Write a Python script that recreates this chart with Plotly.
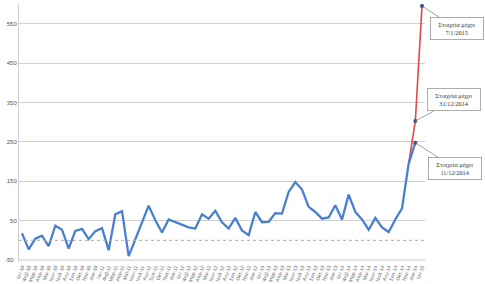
import plotly.graph_objects as go

months = ["Ιαν", "Φεβ", "Μαρ", "Απρ", "Μαϊ", "Ιουν", "Ιουλ", "Αυγ", "Σεπ", "Οκτ", "Νοε", "Δεκ"]
years = ["10", "11", "12", "13", "14", "15"]
categories = [f"{m}-{y}" for y in years for m in months][:61]

blue_values = [18, -23, 4, 12, -15, 37, 27, -21, 24, 29,
               3, 23, 31, -25, 66, 74, -40, 4, 44, 88,
               51, 20, 53, 46, 38, 33, 30, 66, 55, 75,
               46, 30, 57, 25, 13, 72, 46, 47, 69, 68,
               123, 148, 129, 85, 72, 55, 58, 89, 53, 116,
               72, 53, 27, 57, 33, 21, 53, 81, 195, 248]
red_cats = categories[58:61]
red_values = [195, 303, 595]

marker_cats = [categories[59], categories[59], categories[60]]
marker_values = [248, 303, 595]
note_texts = ["Στοιχεία μέχρι<br>11/12/2014", "Στοιχεία μέχρι<br>31/12/2014", "Στοιχεία μέχρι<br>7/1/2015"]

y_ticks = [-50, 50, 150, 250, 350, 450, 550]
y_labels = ["-50", "50", "150", "250", "350", "450", "550"]

fig = go.Figure()
fig.add_trace(go.Scatter(x=red_cats, y=red_values, mode="lines",
                         line=dict(color="#e0474c", width=1.6), hoverinfo="skip"))
fig.add_trace(go.Scatter(x=categories[:60], y=blue_values, mode="lines",
                         line=dict(color="#4a7fcf", width=2.3), hoverinfo="skip"))
fig.add_trace(go.Scatter(x=marker_cats, y=marker_values, mode="markers",
                         marker=dict(color="#2a4f8f", size=4), hoverinfo="skip"))

offsets = [(40, 26), (39, -21), (35, 23)]
for c, v, t, (ax, ay) in zip(marker_cats, marker_values, note_texts, offsets):
    fig.add_annotation(x=c, y=v, text=t, showarrow=True, arrowhead=0,
                       arrowcolor="#888888", arrowwidth=0.8, ax=ax, ay=ay,
                       bordercolor="#999999", borderwidth=0.8, borderpad=3,
                       bgcolor="white", width=46,
                       font=dict(family="Liberation Serif", size=6.3, color="#333333"))

fig.add_shape(type="line", xref="paper", x0=0, x1=1, yref="y", y0=0, y1=0,
              line=dict(color="#aaaaaa", width=1, dash="dot"))
fig.add_shape(type="line", xref="paper", x0=0, x1=1, yref="y", y0=y_ticks[0], y1=y_ticks[0],
              line=dict(color="#c8c8c8", width=1))
fig.add_annotation(xref="paper", x=0, xanchor="right", xshift=-3, yref="y", y=y_ticks[0],
                   yanchor="middle", text=y_labels[0], showarrow=False,
                   font=dict(family="Liberation Sans", size=6, color="#555555"))

fig.update_layout(
    width=485, height=284,
    margin=dict(l=19, r=60, t=4, b=22),
    paper_bgcolor="white", plot_bgcolor="white",
    showlegend=False,
    xaxis=dict(type="category", categoryorder="array", categoryarray=categories,
               range=[-0.45, 60.45], showgrid=False, tickangle=-70,
               tickfont=dict(family="Liberation Sans", size=5, color="#666666"),
               ticks="", showline=False, automargin=False, zeroline=False,
               tickmode="array", tickvals=categories, ticktext=categories),
    yaxis=dict(range=[-55, 600], tickmode="array", tickvals=y_ticks[1:], ticktext=y_labels[1:],
               showgrid=True, gridcolor="#d0d0d0", gridwidth=1, zeroline=False,
               showline=True, linecolor="#d0d0d0", linewidth=1,
               tickfont=dict(family="Liberation Sans", size=6, color="#555555"),
               ticks="", automargin=False),
)

fig.write_html("out.html")
